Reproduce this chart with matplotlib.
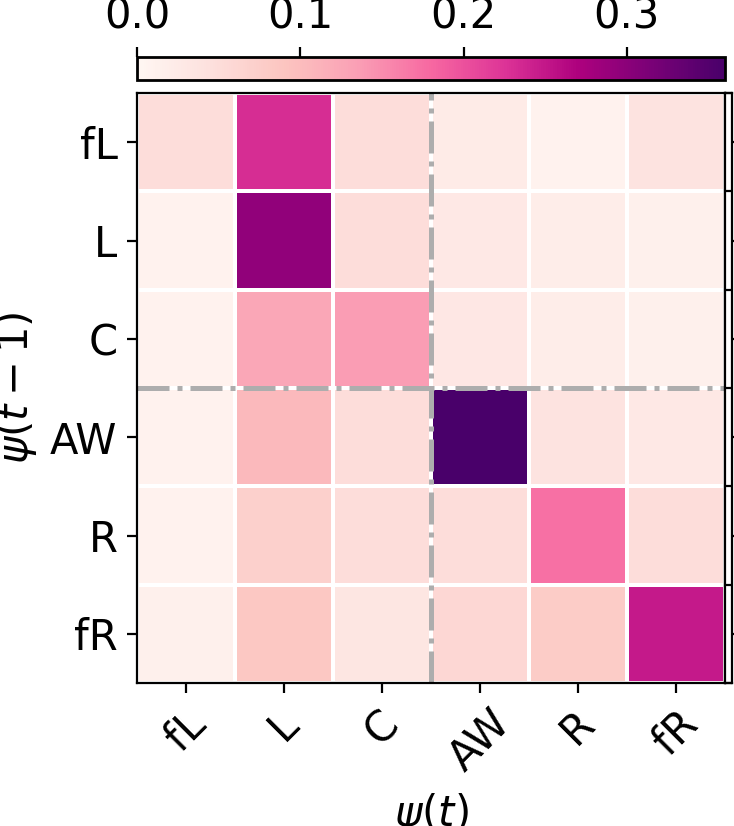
import numpy as np
import matplotlib
matplotlib.use("Agg")
import matplotlib.pyplot as plt

# states, in order
states = ["fL", "L", "C", "AW", "R", "fR"]

# transition probabilities, rows = psi(t-1), cols = psi(t)
row_fL = [0.050, 0.232, 0.050, 0.025, 0.010, 0.040]
row_L  = [0.010, 0.295, 0.050, 0.030, 0.020, 0.015]
row_C  = [0.010, 0.126, 0.137, 0.032, 0.020, 0.015]
row_AW = [0.010, 0.105, 0.050, 0.360, 0.040, 0.030]
row_R  = [0.010, 0.072, 0.050, 0.050, 0.173, 0.050]
row_fR = [0.015, 0.085, 0.035, 0.060, 0.080, 0.248]
cbar_ticks = [0.0, 0.1, 0.2, 0.3]

trans = np.array([row_fL, row_L, row_C, row_AW, row_R, row_fR])
n = len(states)

plt.rcParams["font.size"] = 15

fig = plt.figure(figsize=(3.67, 4.13), dpi=200)
ax = fig.add_axes([0.1866, 0.1731, 0.801, 0.7143])
cax = fig.add_axes([0.1866, 0.903, 0.801, 0.028])
sax = fig.add_axes([0.9877, 0.1731, 0.0095, 0.7143])

mesh = ax.pcolormesh(np.arange(n + 1), np.arange(n + 1), trans, cmap="RdPu",
                     vmin=0, vmax=trans.max(), edgecolors="white", linewidth=0.8)
ax.set_xlim(0, n)
ax.set_ylim(n, 0)

# split line between left-side and right-side states
ax.axvline(3, color="#adadad", ls="-.", lw=1.8)
ax.axhline(3, color="#adadad", ls="-.", lw=1.8)

ax.set_xticks(np.arange(n) + 0.5)
ax.set_xticklabels(states, rotation=45)
ax.set_yticks(np.arange(n) + 0.5)
ax.set_yticklabels(states)
ax.tick_params(axis="y", right=True)
ax.set_xlabel(r"$\psi(t)$")
ax.set_ylabel(r"$\psi(t-1)$")

# colorbar on top
cb = fig.colorbar(mesh, cax=cax, orientation="horizontal")
cb.set_ticks(cbar_ticks)
cb.outline.set_linewidth(1.0)
cax.xaxis.set_ticks_position("top")
cax.xaxis.set_label_position("top")

# thin strip on the right
sax.set_ylim(n, 0)
sax.set_xticks([])
sax.set_yticks(np.arange(n + 1))
sax.yaxis.tick_right()
sax.tick_params(axis="y", direction="in", labelright=False, length=2.5)

fig.savefig("out.png", dpi=200)
